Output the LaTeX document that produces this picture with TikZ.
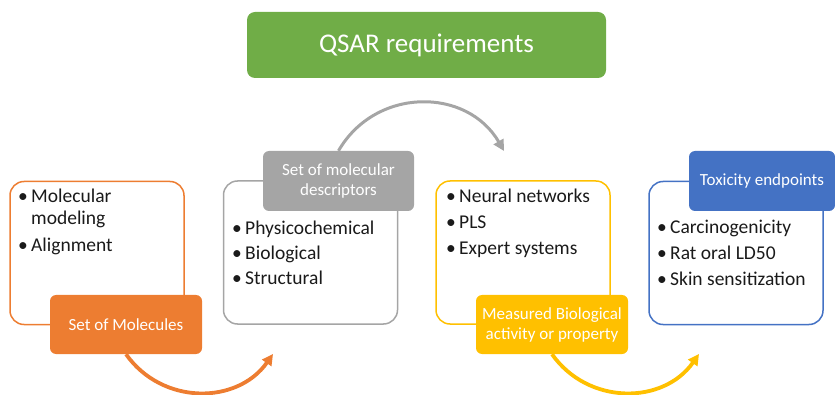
\documentclass[tikz,border=0pt]{standalone}
\usepackage{fontspec}
\setmainfont{Carlito}
\usetikzlibrary{arrows.meta}

\definecolor{qgreen}{HTML}{70AD47}
\definecolor{qorange}{HTML}{ED7D31}
\definecolor{qgray}{HTML}{A5A5A5}
\definecolor{qyellow}{HTML}{FFC000}
\definecolor{qblue}{HTML}{4472C4}
\definecolor{qtext}{HTML}{1A1A1A}

% bullet with a fixed indent
\newcommand{\bul}{\makebox[13pt][l]{•}}

\tikzset{
  listbox/.style={draw=#1, line width=1.5pt, rounded corners=14pt,
    minimum width=174pt, minimum height=143pt, inner sep=0pt},
  tagbox/.style={fill=#1, rounded corners=6pt, text=white, align=center,
    font=\fontsize{17}{20}\selectfont, minimum width=152pt,
    minimum height=59pt, inner sep=0pt},
  item/.style={anchor=base west, text=qtext, inner sep=0pt,
    font=\fontsize{19.5}{22}\selectfont},
  flow/.style={line width=3.8pt, -{Triangle[length=11pt,width=11pt]}},
}

\begin{document}
\begin{tikzpicture}[x=1pt, y=-1pt]
    \useasboundingbox (0, 0) rectangle (835, 395);

    % title
    \node[fill=qgreen, rounded corners=8pt, text=white, inner sep=0pt,
      minimum width=359pt, minimum height=66pt,
      font=\fontsize{27}{32}\selectfont] (title) at (426.5, 45) {QSAR requirements};

    % boxes with lists
    \node[listbox=qorange] (molbox) at (97, 253) {};
    \node[listbox=qgray] (descbox) at (310.5, 252.5) {};
    \node[listbox=qyellow] (mlbox) at (523, 252.5) {};
    \node[listbox=qblue] (toxbox) at (736, 253) {};

    \node[item] (mol1) at (18, 203) {\bul Molecular};
    \node[item] (mol2) at (31, 225) {modeling};
    \node[item] (mol3) at (18, 251.5) {\bul Alignment};

    \node[item] (desc1) at (232, 235) {\bul Physicochemical};
    \node[item] (desc2) at (232, 260) {\bul Biological};
    \node[item] (desc3) at (232, 285) {\bul Structural};

    \node[item] (ml1) at (446, 203) {\bul Neural networks};
    \node[item] (ml2) at (446, 229) {\bul PLS};
    \node[item] (ml3) at (446, 255) {\bul Expert systems};

    \node[item] (tox1) at (657, 234) {\bul Carcinogenicity};
    \node[item] (tox2) at (657, 260) {\bul Rat oral LD50};
    \node[item] (tox3) at (657, 286) {\bul Skin sensitization};

    % filled tags on top of the boxes
    \node[tagbox=qorange] (mol) at (126, 324.5) {Set of Molecules};
    \node[tagbox=qgray, minimum width=151pt, minimum height=60pt] (desc) at (338.5, 181)
      {Set of molecular\\descriptors};
    \node[tagbox=qyellow] (meas) at (552, 324.5) {Measured Biological\\activity or property};
    \node[tagbox=qblue, minimum width=146pt, minimum height=60pt] (tox) at (762, 181)
      {Toxicity endpoints};

    % curved arrows between steps
    \coordinate (a1) at (273, 354);
    \coordinate (a2) at (504, 151);
    \coordinate (a3) at (699, 354);
    \draw[flow, qorange] (mol.south) .. controls +(36, 51) and +(-36, 51) .. (a1);
    \draw[flow, qgray, line width=3pt] (desc.north) .. controls +(37, -64) and +(-37, -64) .. (a2);
    \draw[flow, qyellow] (meas.south) .. controls +(36, 51) and +(-36, 51) .. (a3);
\end{tikzpicture}
\end{document}
